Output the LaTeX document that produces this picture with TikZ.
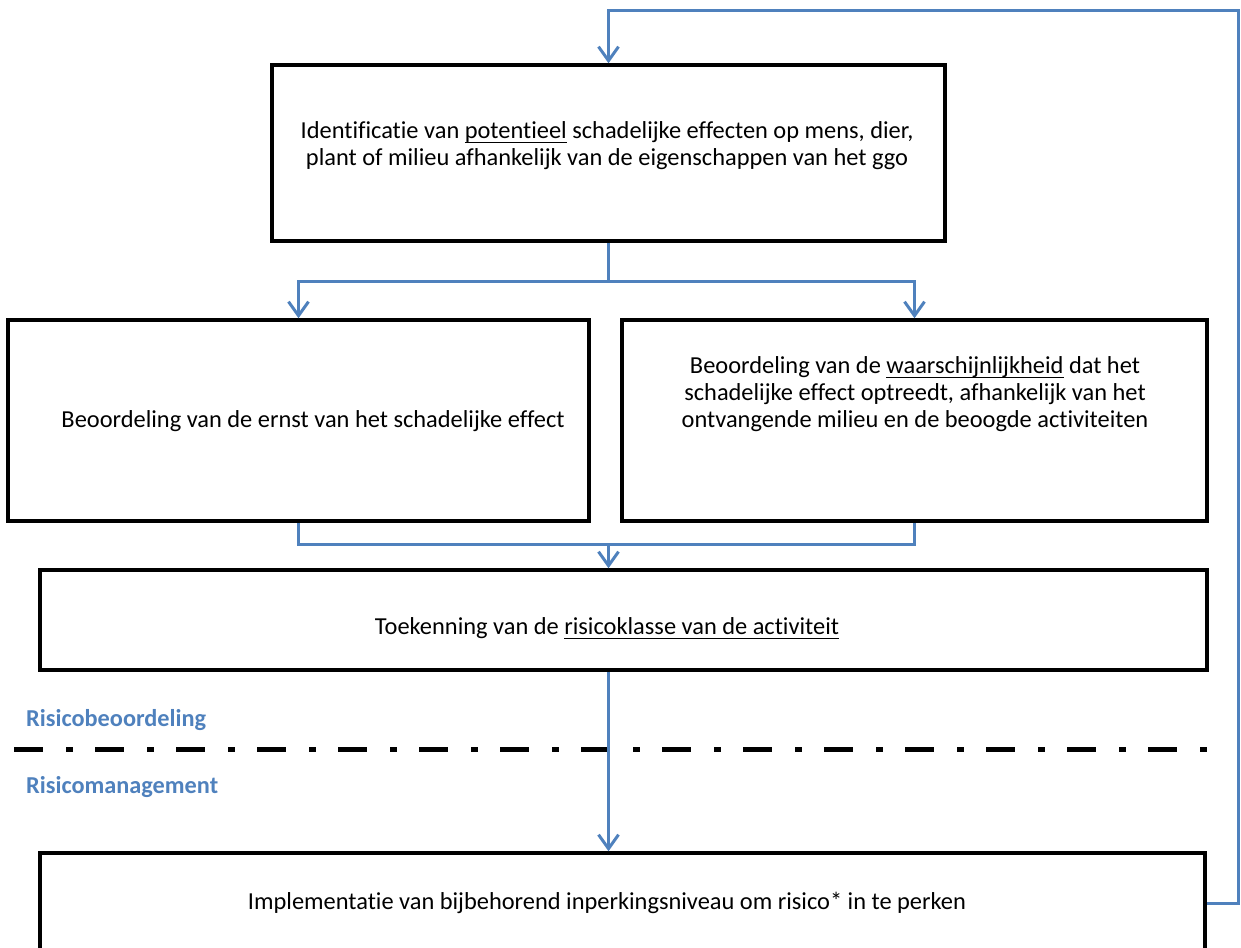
\documentclass[tikz,border=0pt]{standalone}
\usepackage{fontspec}
\setmainfont{Carlito}[Ligatures=CommonOff]
\usetikzlibrary{arrows.meta}
\definecolor{ablue}{HTML}{4F81BD}
\newcommand\myul[1]{\underline{\smash{#1}\rule[-2pt]{0pt}{0pt}}}
\begin{document}
\begin{tikzpicture}[x=1pt,y=-1pt,
  box/.style={draw=black,line width=3.5pt,rectangle,inner sep=0pt},
  txt/.style={font=\fontsize{24.4}{27}\selectfont,align=center,inner sep=0pt},
  conn/.style={draw=ablue,line width=3pt},
  arr/.style={conn,-{Straight Barb[length=14pt,width=20pt,line width=3pt]}},
  lbl/.style={font=\fontsize{24.3}{27}\selectfont\bfseries,text=ablue,anchor=west,inner sep=0pt},
]
\useasboundingbox (0,0) rectangle (1241,947);
% boxes
\node[box,minimum width=673pt,minimum height=176pt] (top) at (608.5,153) {};
\node[box,minimum width=581pt,minimum height=201pt] (left) at (298.5,420.5) {};
\node[box,minimum width=585pt,minimum height=201pt] (right) at (914.5,420.5) {};
\node[box,minimum width=1167pt,minimum height=100pt] (toek) at (623.5,620) {};
\node[box,minimum width=1165pt,minimum height=110pt] (bot) at (622.5,908) {};
% texts
\node[txt] (t1) at (607,146) {Identificatie van \myul{potentieel} schadelijke effecten op mens, dier,\\plant of milieu afhankelijk van de eigenschappen van het ggo};
\node[txt] (t2) at (313,421) {Beoordeling van de ernst van het schadelijke effect};
\node[txt] (t3) at (915,394) {Beoordeling van de \myul{waarschijnlijkheid} dat het\\schadelijke effect optreedt, afhankelijk van het\\ontvangende milieu en de beoogde activiteiten};
\node[txt] (t4) at (607,628) {Toekenning van de \myul{risicoklasse van de activiteit}};
\node[txt] (t5) at (607,903) {Implementatie van bijbehorend inperkingsniveau om risico* in te perken};
% labels
\node[lbl] (l1) at (26,720) {Risicobeoordeling};
\node[lbl] (l2) at (26,787) {Risicomanagement};
% separator
\draw[line width=5pt,dash pattern=on 29pt off 23pt on 7pt off 22pt] (14,749) -- (1207,749);
% connectors
\draw[arr] (top.south) -- ++(0,39) -| (left.north);
\draw[arr] (top.south) -- ++(0,39) -| (right.north);
\draw[conn] (left.south) -- ++(0,22) -| (right.south);
\draw[arr] (top.south |- 0,543) -- (top.south |- toek.north);
\draw[arr] (top.south |- toek.south) -- (top.south |- bot.north);
\coordinate (fb1) at (1238,903);
\coordinate (fb2) at (1238,11);
\draw[arr] (bot.east |- fb1) -- (fb1) -- (fb2) -- (top.north |- fb2) -- (top.north);
\end{tikzpicture}
\end{document}
